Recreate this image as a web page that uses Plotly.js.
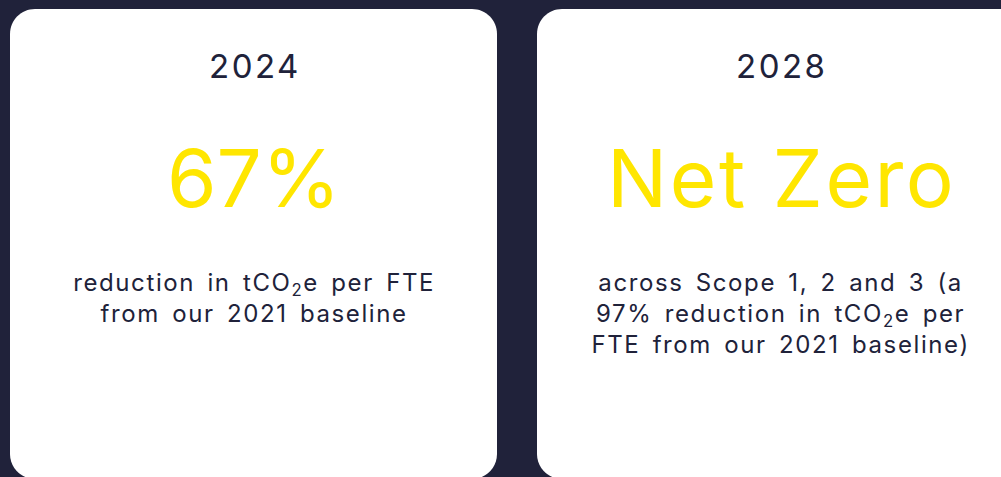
<!DOCTYPE html>
<html>
<head>
<meta charset="utf-8">
<script src="https://cdn.plot.ly/plotly-3.0.1.min.js"></script>
<style>
html,body{margin:0;padding:0;background:#20223a;overflow:hidden;}
#chart{width:1001px;height:477px;}
.annotation[data-index="0"] text, .annotation[data-index="3"] text {letter-spacing:2.5px;}
.annotation[data-index="4"] text {letter-spacing:2.5px;}
.annotation[data-index="2"] text, .annotation[data-index="5"] text {letter-spacing:1.6px; word-spacing:4px;}
</style>
</head>
<body>
<div id="chart"></div>
<script>
// Data
const years = ['2024', '2028'];
const headlines = ['67%', 'Net Zero'];
const descriptions = [
  'reduction in tCO<sub>2</sub>e per FTE<br>from our 2021 baseline',
  'across Scope 1, 2 and 3 (a<br>97% reduction in tCO<sub>2</sub>e per<br>FTE from our 2021 baseline)'
];

const W = 1001, H = 477;
const BG = '#20223a', CARD = '#ffffff', INK = '#20223a', YELLOW = '#ffe600';
const FONT = 'Inter, "Open Sans", sans-serif';

const cardW = 487, gap = 40, cardX0 = 10, cardTop = 9, cardBottom = 479, rad = 25;

function roundRect(a, b, c, d, rr) {
  const k = rr * 0.4477;
  return `M ${a + rr} ${b} L ${c - rr} ${b} C ${c - k} ${b} ${c} ${b + k} ${c} ${b + rr} ` +
         `L ${c} ${d - rr} C ${c} ${d - k} ${c - k} ${d} ${c - rr} ${d} ` +
         `L ${a + rr} ${d} C ${a + k} ${d} ${a} ${d - k} ${a} ${d - rr} ` +
         `L ${a} ${b + rr} C ${a} ${b + k} ${a + k} ${b} ${a + rr} ${b} Z`;
}

const shapes = [], annotations = [];
years.forEach((yr, i) => {
  const a = cardX0 + i * (cardW + gap), c = a + cardW, cx = (a + c) / 2;
  shapes.push({type: 'path', xref: 'x', yref: 'y', path: roundRect(a, cardTop, c, cardBottom, rad),
               fillcolor: CARD, line: {width: 0}, layer: 'below'});
  annotations.push({x: cx, y: 66, xref: 'x', yref: 'y', text: yr, showarrow: false, xshift: 1,
                    font: {family: FONT, size: 33, color: INK}, xanchor: 'center', yanchor: 'middle'});
  annotations.push({x: cx, y: 177, xref: 'x', yref: 'y', text: headlines[i], showarrow: false, xshift: i ? 1 : 0,
                    font: {family: FONT, size: 80, color: YELLOW}, xanchor: 'center', yanchor: 'middle'});
  annotations.push({x: cx, y: 266, xref: 'x', yref: 'y', text: descriptions[i], showarrow: false,
                    font: {family: FONT, size: 24, color: INK}, xanchor: 'center', yanchor: 'top', align: 'center'});
});

const layout = {
  width: W, height: H,
  margin: {l: 0, r: 0, t: 0, b: 0, pad: 0},
  paper_bgcolor: BG, plot_bgcolor: 'rgba(0,0,0,0)',
  xaxis: {range: [0, W], visible: false, fixedrange: true},
  yaxis: {range: [H, 0], visible: false, fixedrange: true},
  shapes: shapes, annotations: annotations, showlegend: false
};

Plotly.newPlot('chart', [], layout, {staticPlot: true, displayModeBar: false});
</script>
</body>
</html>
